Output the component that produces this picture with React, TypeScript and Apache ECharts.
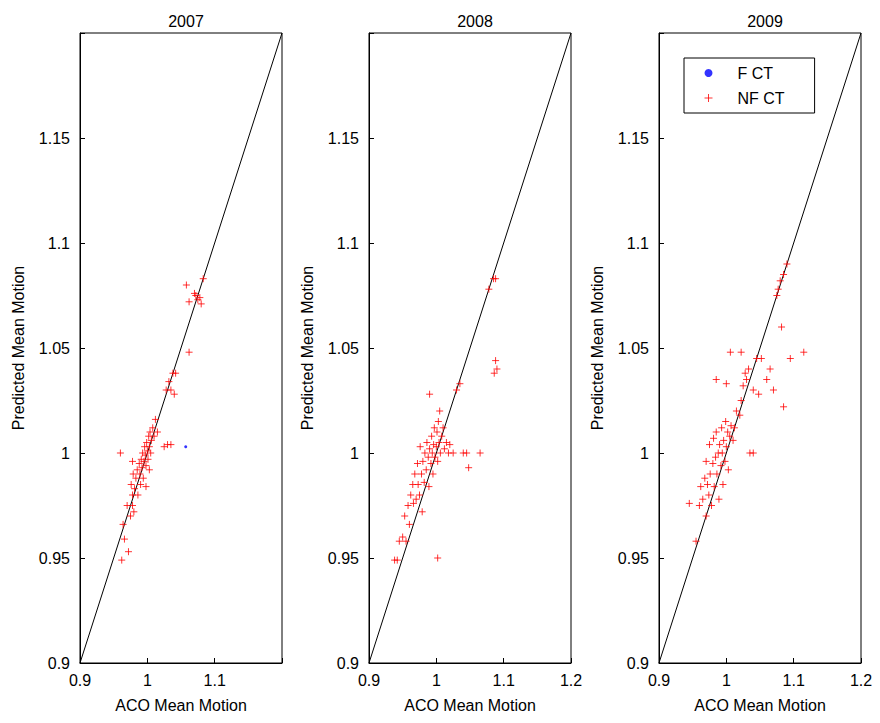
import { useEffect, useRef } from 'react'
import * as echarts from 'echarts'

// ─── 数据 ───
const years = ['2007', '2008', '2009']

const nf2007: [number, number][] = [
  [0.962,0.949],[0.964,0.966],[0.966,0.959],[0.970,0.975],[0.972,0.953],[0.975,0.970],[0.976,0.985],[0.978,0.980],
  [0.978,0.975],[0.979,0.990],[0.980,0.972],[0.981,0.983],[0.983,0.988],[0.985,0.992],[0.986,0.980],[0.988,0.995],
  [0.989,0.990],[0.990,0.985],[0.991,0.997],[0.992,0.993],[0.993,1.000],[0.994,0.988],[0.995,0.996],[0.996,1.003],
  [0.997,0.999],[0.998,0.994],[0.999,1.005],[1.000,1.001],[1.001,0.997],[1.002,1.008],[1.003,1.003],[1.004,1.010],
  [1.005,1.000],[1.006,1.006],[1.008,1.012],[1.010,1.008],[1.012,1.016],[1.015,1.010],[1.003,0.992],[0.998,0.984],
  [0.960,1.000],[0.978,0.996],[1.025,1.003],[1.030,1.004],[1.035,1.004],[1.028,1.030],[1.032,1.034],[1.038,1.038],
  [1.042,1.038],[1.040,1.028],[1.062,1.048],[1.058,1.080],[1.062,1.072],[1.072,1.075],[1.075,1.073],[1.078,1.074],
  [1.080,1.071],[1.083,1.083],[1.070,1.076],[1.035,1.030],
]

const nf2008: [number, number][] = [
  [0.938,0.949],[0.942,0.949],[0.945,0.958],[0.950,0.960],[0.953,0.970],[0.955,0.958],[0.958,0.975],[0.960,0.966],
  [0.962,0.980],[0.965,0.985],[0.966,0.976],[0.968,0.990],[0.970,0.978],[0.972,0.995],[0.973,0.985],[0.975,0.980],
  [0.976,1.003],[0.978,0.990],[0.979,0.972],[0.980,0.996],[0.982,0.986],[0.983,1.000],[0.985,0.992],[0.986,1.005],
  [0.988,0.998],[0.989,0.984],[0.990,1.002],[0.992,0.995],[0.993,1.008],[0.994,1.000],[0.995,0.990],[0.996,1.004],
  [0.997,1.012],[0.998,0.998],[1.000,1.003],[1.001,1.010],[1.002,0.996],[1.003,1.015],[1.004,1.005],[1.005,1.020],
  [1.006,1.000],[1.008,1.008],[1.010,1.012],[1.012,1.002],[1.015,1.005],[1.018,1.000],[1.020,1.004],[1.025,1.000],
  [1.030,1.030],[1.035,1.033],[1.040,1.000],[1.045,1.000],[1.048,0.993],[1.002,0.950],[0.990,1.028],[1.065,1.000],
  [1.078,1.078],[1.085,1.083],[1.088,1.083],[1.088,1.044],[1.090,1.040],[1.086,1.038],
]

const nf2009: [number, number][] = [
  [0.945,0.976],[0.955,0.958],[0.960,0.975],[0.962,0.984],[0.965,0.978],[0.968,0.988],[0.970,0.970],[0.970,0.996],
  [0.972,0.985],[0.974,0.980],[0.975,1.004],[0.976,0.990],[0.978,0.975],[0.980,0.995],[0.981,1.007],[0.982,0.984],
  [0.984,0.998],[0.985,1.010],[0.986,0.990],[0.988,1.000],[0.989,0.978],[0.990,1.004],[0.992,0.994],[0.993,1.012],
  [0.994,1.000],[0.995,0.985],[0.996,1.006],[0.998,0.996],[0.999,1.015],[1.000,1.003],[1.002,1.010],[1.003,0.992],
  [1.005,1.008],[1.007,1.013],[1.010,1.006],[1.012,1.012],[1.015,1.020],[1.020,1.018],[1.022,1.025],[1.025,1.032],
  [1.028,1.038],[1.030,1.035],[1.033,1.040],[1.035,1.000],[1.040,1.000],[1.040,1.030],[1.045,1.045],[1.048,1.028],
  [1.052,1.045],[1.060,1.035],[1.065,1.040],[1.070,1.030],[1.075,1.075],[1.077,1.078],[1.080,1.082],[1.082,1.060],
  [1.085,1.085],[1.090,1.090],[1.085,1.022],[1.095,1.045],[1.115,1.048],[1.006,1.048],[1.022,1.048],[1.000,1.033],
  [0.985,1.035],
]

const nfData = [nf2007, nf2008, nf2009]
const fData: [number, number][][] = [[[1.057, 1.003]], [], []]
const diagonal: [number, number][] = [[0.9, 0.9], [1.2, 1.2]]

const PLUS = 'path://M0,5L10,5M5,0L5,10'
const FONT = 'Liberation Sans, Arial, sans-serif'
const FS = 16

export default function App() {
  const ref = useRef<HTMLDivElement>(null)

  useEffect(() => {
    if (!ref.current) return
    const chart = echarts.init(ref.current, undefined, { renderer: 'svg' })
    const lefts = [80, 369, 659]

    const fmt = (v: number) => (v > 1.19 ? '' : String(+v.toFixed(2)))

    chart.setOption({
      animation: false,
      textStyle: { fontFamily: FONT, fontSize: FS },
      title: years.map((y, i) => ({
        text: y, left: lefts[i] + 101, top: 8, textAlign: 'center',
        textStyle: { fontSize: FS, fontWeight: 'normal', color: '#000', fontFamily: FONT },
      })),
      grid: lefts.map(l => ({
        left: l, width: 202, top: 33, height: 630,
        show: true, borderColor: '#000', borderWidth: 1, backgroundColor: '#fff',
      })),
      xAxis: lefts.map((_, i) => ({
        gridIndex: i, type: 'value', min: 0.9, max: 1.2, interval: 0.1,
        name: 'ACO Mean Motion', nameLocation: 'middle', nameGap: 34,
        nameTextStyle: { fontSize: FS, color: '#000', fontFamily: FONT },
        axisLine: { lineStyle: { color: '#000' } },
        axisTick: { inside: true, length: 5, lineStyle: { color: '#000' } },
        axisLabel: {
          fontSize: FS, color: '#000', margin: 9, fontFamily: FONT,
          formatter: (v: number) => (i === 0 && v > 1.19 ? '' : String(+v.toFixed(1))),
        },
        splitLine: { show: false },
      })),
      yAxis: lefts.map((_, i) => ({
        gridIndex: i, type: 'value', min: 0.9, max: 1.2, interval: 0.05,
        name: 'Predicted Mean Motion', nameLocation: 'middle', nameGap: 54,
        nameTextStyle: { fontSize: FS, color: '#000', fontFamily: FONT },
        axisLine: { lineStyle: { color: '#000' } },
        axisTick: { inside: true, length: 5, lineStyle: { color: '#000' } },
        axisLabel: { fontSize: FS, color: '#000', formatter: fmt, margin: 10, fontFamily: FONT },
        splitLine: { show: false },
      })),
      legend: {
        left: 684, top: 58, orient: 'vertical',
        borderColor: '#000', borderWidth: 1, backgroundColor: '#fff',
        padding: [7, 30, 7, 20], itemGap: 9, itemWidth: 20, itemHeight: 8,
        textStyle: { fontSize: FS, color: '#000', fontFamily: FONT, padding: [0, 0, 0, 14] },
        data: [
          { name: 'F CT', icon: 'circle', itemStyle: { color: '#0000ff' } },
          { name: 'NF CT', icon: PLUS, itemStyle: { color: 'transparent', borderColor: '#ff0000', borderWidth: 1 } },
        ],
      },
      series: [
        ...lefts.map((_, i) => ({
          type: 'line', xAxisIndex: i, yAxisIndex: i, data: diagonal,
          symbol: 'none', lineStyle: { color: '#000', width: 1 }, silent: true, z: 1,
        })),
        ...lefts.map((_, i) => ({
          name: 'F CT', type: 'scatter', xAxisIndex: i, yAxisIndex: i, data: fData[i],
          symbol: 'circle', symbolSize: 3, itemStyle: { color: '#0000ff' }, z: 3,
        })),
        ...lefts.map((_, i) => ({
          name: 'NF CT', type: 'scatter', xAxisIndex: i, yAxisIndex: i, data: nfData[i],
          symbol: PLUS, symbolSize: 7,
          itemStyle: { color: 'transparent', borderColor: '#ff0000', borderWidth: 1 }, z: 2,
        })),
      ],
    })

    return () => chart.dispose()
  }, [])

  return (
    <div
      ref={ref}
      style={{ position: 'absolute', left: 0, top: 0, width: 880, height: 723, background: '#fff' }}
    />
  )
}
